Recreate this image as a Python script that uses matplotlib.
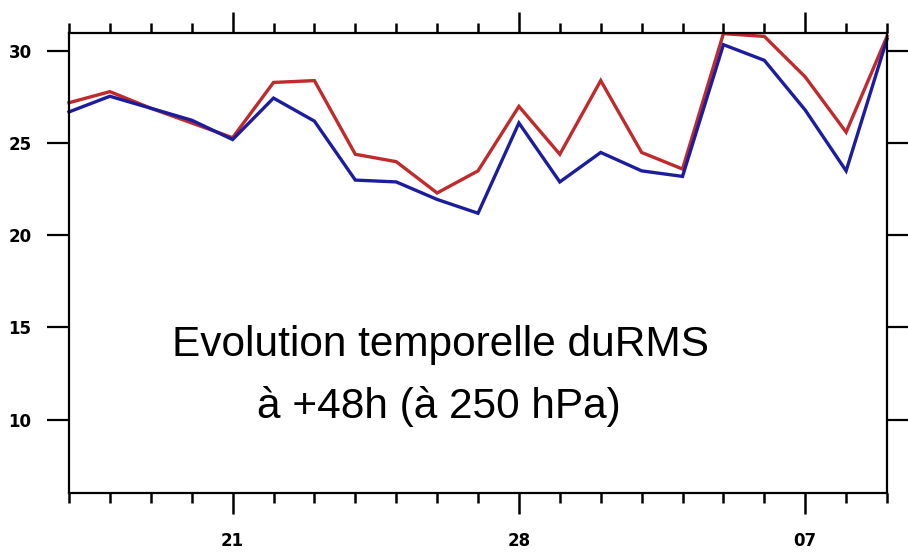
import numpy as np
import matplotlib
matplotlib.use('Agg')
import matplotlib.pyplot as plt

# daily dates, 17 Feb -> 09 Mar
days = ['17', '18', '19', '20', '21', '22', '23', '24', '25', '26', '27', '28',
        '01', '02', '03', '04', '05', '06', '07', '08', '09']
labelled_days = ['21', '28', '07']

# RMS at +48h, 250 hPa
rms_red = [27.2, 27.8, 26.9, 26.1, 25.3, 28.3, 28.4, 24.4, 24.0, 22.3, 23.5,
           27.0, 24.4, 28.4, 24.5, 23.6, 30.95, 30.8, 28.6, 25.6, 30.8]
rms_blue = [26.7, 27.55, 26.9, 26.25, 25.2, 27.45, 26.2, 23.0, 22.9, 21.95, 21.2,
            26.1, 22.9, 24.5, 23.5, 23.2, 30.35, 29.5, 26.8, 23.5, 30.65]

yticks = [10, 15, 20, 25, 30]

x = np.arange(len(days))

fig = plt.figure(figsize=(9.08, 5.57), dpi=100)
ax = fig.add_axes([0.076, 0.1144, 0.9009, 0.8269])

ax.plot(x, rms_red, color='#c02a2c', lw=2.4, solid_joinstyle='miter', clip_on=False)
ax.plot(x, rms_blue, color='#1c1c9e', lw=2.4, solid_joinstyle='miter', clip_on=False)

ax.set_xlim(0, len(days) - 1)
ax.set_ylim(6, 31)

major_pos = [days.index(d) for d in labelled_days]
ax.set_xticks(major_pos)
ax.set_xticklabels(labelled_days)
ax.set_xticks(x, minor=True)
ax.set_yticks(yticks)
ax.set_yticklabels([str(v) for v in yticks])

for s in ax.spines.values():
    s.set_linewidth(1.6)

ax.tick_params(axis='x', which='major', direction='out', length=15, width=1.8,
               top=True, bottom=True, labelsize=12, pad=13)
ax.tick_params(axis='x', which='minor', direction='out', length=7.5, width=1.8,
               top=True, bottom=True)
ax.tick_params(axis='y', which='major', direction='out', length=16, width=1.6,
               left=True, right=True, labelsize=12, pad=11)
for lab in ax.get_xticklabels() + ax.get_yticklabels():
    lab.set_fontweight('bold')
    lab.set_family('DejaVu Sans')

fig.text(0.4846, 0.3609, 'Evolution temporelle duRMS', ha='center', va='baseline',
         fontsize=30.5, family=['Liberation Sans', 'DejaVu Sans'])
fig.text(0.4830, 0.2496, 'à +48h (à 250 hPa)', ha='center', va='baseline',
         fontsize=30.5, family=['Liberation Sans', 'DejaVu Sans'])

fig.savefig('out.png', dpi=100)
